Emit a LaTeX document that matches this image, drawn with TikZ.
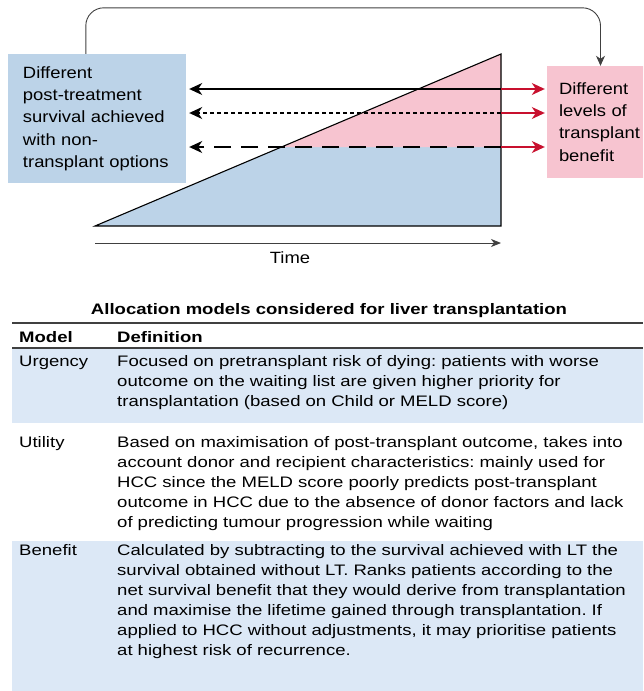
\documentclass[tikz,border=0pt]{standalone}
\usepackage{fontspec}
\newfontfamily\diagfont[FakeStretch=1.13]{Liberation Sans}
\newfontfamily\tabfont[FakeStretch=1.22]{Liberation Sans}
\usetikzlibrary{arrows.meta}
\frenchspacing
\definecolor{boxblue}{HTML}{BCD3E8}
\definecolor{boxpink}{HTML}{F7C4D0}
\definecolor{rowblue}{HTML}{DCE8F6}
\definecolor{benred}{HTML}{C8102E}
\definecolor{rulegray}{HTML}{404040}
\tikzset{
  diagtxt/.style={font=\diagfont\fontsize{16.3}{22.3}\selectfont},
  tabtxt/.style={font=\tabfont\fontsize{15.2}{20}\selectfont, inner sep=0pt, anchor=base west},
  tabhead/.style={tabtxt, font=\tabfont\bfseries\fontsize{15.2}{20}\selectfont},
  deftxt/.style={tabtxt, text width=520pt, align=left},
  levelarrow/.style={line width=1.4pt, -{Stealth[length=13pt,width=12pt,inset=4pt]}},
  loopline/.style={line width=0.9pt, rulegray, rounded corners=18pt, -{Stealth[length=10pt,width=9pt,inset=3pt]}},
}
\begin{document}
\begin{tikzpicture}[x=1pt,y=-1pt]
\useasboundingbox (0,0) rectangle (643,691);
\clip (0,0) rectangle (643,691);

% survival triangle
\coordinate (tl) at (95,226);
\coordinate (tr) at (501,226);
\coordinate (tt) at (501,54);
\coordinate (cut) at (281.5,147);
\fill[boxblue] (tl) -- (cut) -- (501,147) -- (tr) -- cycle;
\fill[boxpink] (cut) -- (tt) -- (501,147) -- cycle;
\draw[line width=1.1pt] (tl) -- (tt) -- (tr) -- cycle;

% boxes
\node[diagtxt, fill=boxblue, text width=148pt, inner xsep=15pt, minimum height=129pt, align=left] (nontx) at (97,118.5)
  {Different\\post-treatment\\survival achieved\\with non-\\transplant options};
\node[diagtxt, fill=boxpink, text width=83pt, inner xsep=12pt, minimum height=112pt, align=left] (benefit) at (600.5,122)
  {Different\\levels of\\transplant\\benefit};

% levels
\coordinate (lv1) at (501,89);
\coordinate (lv2) at (501,113);
\coordinate (lv3) at (501,147);
\draw[levelarrow, benred, shorten >=2pt] (lv1) -- (lv1 -| benefit.west);
\draw[levelarrow, benred, shorten >=2pt] (lv2) -- (lv2 -| benefit.west);
\draw[levelarrow, benred, shorten >=2pt] (lv3) -- (lv3 -| benefit.west);
\draw[levelarrow, shorten >=3pt] (lv1) -- (lv1 -| nontx.east);
\draw[levelarrow, shorten >=3pt, dash pattern=on 4pt off 3pt] (lv2) -- (lv2 -| nontx.east);
\draw[levelarrow, shorten >=3pt, dash pattern=on 17pt off 10pt] (lv3) -- (lv3 -| nontx.east);

\draw[loopline] ([xshift=78pt]nontx.north west) -- ++(0,-46) -| (benefit.north);

% time axis
\coordinate (t0) at (95,243);
\coordinate (t1) at (501,243);
\draw[line width=0.9pt, rulegray, -{Stealth[length=10pt,width=8pt,inset=3pt]}] (t0) -- (t1);
\node[diagtxt, anchor=base, inner sep=0pt] (time) at (290,263) {Time};

% table
\node[tabhead, anchor=base] (title) at (329,314) {Allocation models considered for liver transplantation};
\draw[line width=2pt, rulegray] (12,323) -- (643,323);
\fill[rowblue] (12,348) rectangle (643,423);
\fill[rowblue] (12,541) rectangle (643,691);
\draw[line width=1.2pt, rulegray] (12,348) -- (643,348);
\node[tabhead] (hmodel) at (19,342.5) {Model};
\node[tabhead] (hdef) at (117,342.5) {Definition};

\node[tabtxt] (urgency) at (19,366) {Urgency};
\node[deftxt] (urgencydef) at (117,366)
  {Focused on pretransplant risk of dying: patients with worse\\
   outcome on the waiting list are given higher priority for\\
   transplantation (based on Child or MELD score)};
\node[tabtxt] (utility) at (19,447) {Utility};
\node[deftxt] (utilitydef) at (117,447)
  {Based on maximisation of post-transplant outcome, takes into\\
   account donor and recipient characteristics: mainly used for\\
   HCC since the MELD score poorly predicts post-transplant\\
   outcome in HCC due to the absence of donor factors and lack\\
   of predicting tumour progression while waiting};
\node[tabtxt] (benefitrow) at (19,555) {Benefit};
\node[deftxt] (benefitdef) at (117,555)
  {Calculated by subtracting to the survival achieved with LT the\\
   survival obtained without LT. Ranks patients according to the\\
   net survival benefit that they would derive from transplantation\\
   and maximise the lifetime gained through transplantation. If\\
   applied to HCC without adjustments, it may prioritise patients\\
   at highest risk of recurrence.};
\end{tikzpicture}
\end{document}
